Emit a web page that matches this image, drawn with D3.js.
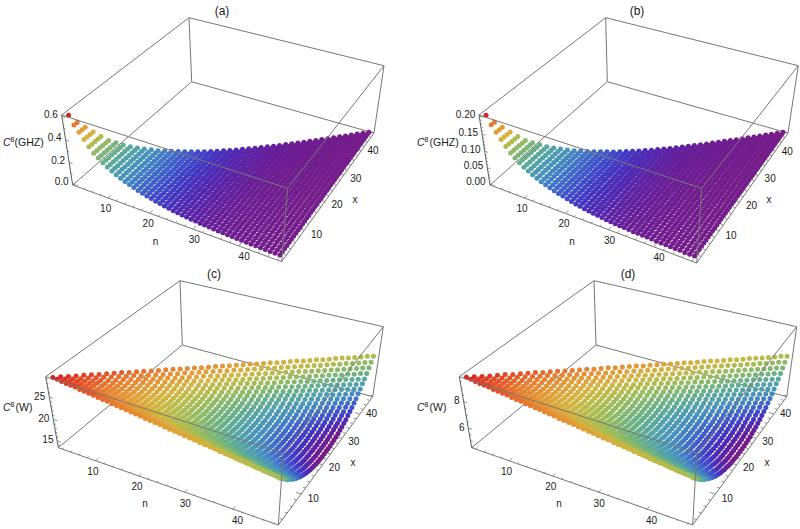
<!DOCTYPE html>
<html><head><meta charset="utf-8">
<style>html,body{margin:0;padding:0;background:#fff}svg{display:block}text{font-family:"Liberation Sans",Arial,sans-serif;fill:#1a1a1a}</style>
<script src="https://cdn.jsdelivr.net/npm/d3@7"></script></head><body><svg id="c" width="800" height="529"></svg>
<script>
// n runs 2..48, x runs 1..n-1
const nValues = d3.range(2, 49);
// panels (a), (b): value read per n (columns have one colour)
const ghzA = [.600,.530,.480,.430,.380,.335,.305,.275,.250,.228,.208,.190,.172,.158,.145,.132,.121,.110,.100,.090,.082,.074,.067,.060,.055,.050,.045,.040,.037,.033,.030,.027,.025,.022,.020,.018,.017,.015,.013,.012,.011,.010,.009,.008,.007,.006,.006];
const ghzB = [.200,.177,.160,.143,.127,.112,.102,.092,.083,.076,.069,.063,.057,.053,.048,.044,.040,.037,.033,.030,.027,.025,.022,.020,.018,.017,.015,.013,.012,.011,.010,.009,.008,.007,.007,.006,.006,.005,.004,.004,.004,.003,.003,.003,.002,.002,.002];
// panels (c), (d): one row per n, values for x=1..n/2 (the surface reads symmetric in x and n-x)
const wC = [[29.0],[28.9],[28.7,28.7],[28.6,28.5],[28.5,28.3,28.3],[28.4,28.2,28.1],[28.2,28.0,27.9,27.9],[28.1,27.9,27.7,27.7],[28.0,27.7,27.5,27.4,27.4],[27.9,27.6,27.3,27.2,27.1],
[27.7,27.4,27.2,27.0,26.9,26.9],[27.6,27.3,27.0,26.8,26.7,26.6],[27.5,27.1,26.8,26.6,26.4,26.3,26.3],[27.3,26.9,26.6,26.4,26.2,26.1,26.0],[27.2,26.8,26.4,26.2,26.0,25.8,25.7,25.7],[27.1,26.6,26.3,26.0,25.7,25.6,25.5,25.4],
[27.0,26.5,26.1,25.8,25.5,25.3,25.2,25.1,25.1],[26.8,26.3,25.9,25.6,25.3,25.1,24.9,24.8,24.8],[26.7,26.2,25.7,25.4,25.1,24.8,24.7,24.5,24.5,24.5],[26.6,26.0,25.6,25.2,24.9,24.6,24.4,24.3,24.2,24.1],
[26.4,25.9,25.4,25.0,24.7,24.4,24.1,24.0,23.9,23.8,23.8],[26.3,25.8,25.3,24.8,24.4,24.1,23.9,23.7,23.6,23.5,23.4],[26.2,25.6,25.1,24.6,24.2,23.9,23.6,23.4,23.3,23.2,23.1,23.1],[26.1,25.5,24.9,24.5,24.0,23.7,23.4,23.2,23.0,22.9,22.8,22.8],
[25.9,25.3,24.8,24.3,23.8,23.5,23.2,22.9,22.7,22.6,22.5,22.4,22.4],[25.8,25.2,24.6,24.1,23.7,23.3,22.9,22.7,22.4,22.3,22.2,22.1,22.0],[25.7,25.0,24.4,23.9,23.5,23.1,22.7,22.4,22.2,22.0,21.8,21.7,21.7,21.7],[25.6,24.9,24.3,23.7,23.3,22.8,22.5,22.2,21.9,21.7,21.5,21.4,21.3,21.3],
[25.4,24.8,24.1,23.6,23.1,22.6,22.2,21.9,21.6,21.4,21.2,21.1,21.0,20.9,20.9],[25.3,24.6,24.0,23.4,22.9,22.4,22.0,21.7,21.4,21.1,20.9,20.8,20.7,20.6,20.6],[25.2,24.5,23.8,23.2,22.7,22.2,21.8,21.4,21.1,20.8,20.6,20.4,20.3,20.2,20.2,20.2],[25.0,24.3,23.7,23.1,22.5,22.0,21.6,21.2,20.8,20.6,20.3,20.1,20.0,19.9,19.8,19.8],
[24.9,24.2,23.5,22.9,22.3,21.8,21.4,21.0,20.6,20.3,20.0,19.8,19.7,19.5,19.5,19.4,19.4],[24.8,24.0,23.4,22.7,22.2,21.6,21.1,20.7,20.3,20.0,19.7,19.5,19.3,19.2,19.1,19.0,19.0],[24.7,23.9,23.2,22.6,22.0,21.4,20.9,20.5,20.1,19.8,19.5,19.2,19.0,18.9,18.7,18.7,18.6,18.6],[24.5,23.8,23.1,22.4,21.8,21.2,20.7,20.3,19.9,19.5,19.2,18.9,18.7,18.5,18.4,18.3,18.3,18.2],
[24.4,23.6,22.9,22.2,21.6,21.0,20.5,20.0,19.6,19.2,18.9,18.6,18.4,18.2,18.0,17.9,17.9,17.8,17.8],[24.3,23.5,22.7,22.0,21.4,20.8,20.3,19.8,19.4,19.0,18.6,18.3,18.1,17.9,17.7,17.6,17.5,17.4,17.4],[24.1,23.3,22.6,21.9,21.2,20.6,20.1,19.6,19.1,18.7,18.4,18.1,17.8,17.6,17.4,17.2,17.1,17.0,17.0,17.0],[24.0,23.2,22.4,21.7,21.1,20.5,19.9,19.4,18.9,18.5,18.1,17.8,17.5,17.2,17.0,16.9,16.8,16.7,16.6,16.6],
[23.9,23.1,22.3,21.6,20.9,20.3,19.7,19.2,18.7,18.2,17.9,17.5,17.2,16.9,16.7,16.5,16.4,16.3,16.2,16.2,16.2],[23.8,22.9,22.1,21.4,20.7,20.1,19.5,19.0,18.4,18.0,17.6,17.2,16.9,16.6,16.4,16.2,16.0,15.9,15.8,15.8,15.8],[23.6,22.8,22.0,21.2,20.6,19.9,19.3,18.7,18.2,17.8,17.3,17.0,16.6,16.3,16.1,15.9,15.7,15.6,15.5,15.4,15.4,15.3],[23.5,22.6,21.8,21.1,20.4,19.7,19.1,18.5,18.0,17.5,17.1,16.7,16.4,16.1,15.8,15.6,15.4,15.2,15.1,15.0,15.0,14.9],
[23.4,22.5,21.7,20.9,20.2,19.5,18.9,18.3,17.8,17.3,16.8,16.4,16.1,15.8,15.5,15.2,15.0,14.8,14.7,14.6,14.6,14.5,14.5],[23.3,22.4,21.6,20.8,20.0,19.3,18.7,18.1,17.5,17.0,16.6,16.1,15.8,15.4,15.1,14.9,14.7,14.5,14.3,14.2,14.1,14.1,14.1],[23.1,22.2,21.4,20.6,19.8,19.2,18.5,17.9,17.3,16.8,16.3,15.9,15.5,15.1,14.8,14.5,14.3,14.1,13.9,13.8,13.7,13.6,13.6,13.6]];
const wD = [[9.67],[9.63],[9.57,9.57],[9.53,9.50],[9.50,9.43,9.43],[9.47,9.40,9.37],[9.40,9.33,9.30,9.30],[9.37,9.30,9.23,9.23],[9.33,9.23,9.17,9.13,9.13],[9.30,9.20,9.10,9.07,9.03],
[9.23,9.13,9.07,9.00,8.97,8.97],[9.20,9.10,9.00,8.93,8.90,8.87],[9.17,9.03,8.93,8.87,8.80,8.77,8.77],[9.10,8.97,8.87,8.80,8.73,8.70,8.67],[9.07,8.93,8.80,8.73,8.67,8.60,8.57,8.57],[9.03,8.87,8.77,8.67,8.57,8.53,8.50,8.47],
[9.00,8.83,8.70,8.60,8.50,8.43,8.40,8.37,8.37],[8.93,8.77,8.63,8.53,8.43,8.37,8.30,8.27,8.27],[8.90,8.73,8.57,8.47,8.37,8.27,8.23,8.17,8.17,8.17],[8.87,8.67,8.53,8.40,8.30,8.20,8.13,8.10,8.07,8.03],
[8.80,8.63,8.47,8.33,8.23,8.13,8.03,8.00,7.97,7.93,7.93],[8.77,8.60,8.43,8.27,8.13,8.03,7.97,7.90,7.87,7.83,7.80],[8.73,8.53,8.37,8.20,8.07,7.97,7.87,7.80,7.77,7.73,7.70,7.70],[8.70,8.50,8.30,8.17,8.00,7.90,7.80,7.73,7.67,7.63,7.60,7.60],
[8.63,8.43,8.27,8.10,7.93,7.83,7.73,7.63,7.57,7.53,7.50,7.47,7.47],[8.60,8.40,8.20,8.03,7.90,7.77,7.63,7.57,7.47,7.43,7.40,7.37,7.33],[8.57,8.33,8.13,7.97,7.83,7.70,7.57,7.47,7.40,7.33,7.27,7.23,7.23,7.23],[8.53,8.30,8.10,7.90,7.77,7.60,7.50,7.40,7.30,7.23,7.17,7.13,7.10,7.10],
[8.47,8.27,8.03,7.87,7.70,7.53,7.40,7.30,7.20,7.13,7.07,7.03,7.00,6.97,6.97],[8.43,8.20,8.00,7.80,7.63,7.47,7.33,7.23,7.13,7.03,6.97,6.93,6.90,6.87,6.87],[8.40,8.17,7.93,7.73,7.57,7.40,7.27,7.13,7.03,6.93,6.87,6.80,6.77,6.73,6.73,6.73],[8.33,8.10,7.90,7.70,7.50,7.33,7.20,7.07,6.93,6.87,6.77,6.70,6.67,6.63,6.60,6.60],
[8.30,8.07,7.83,7.63,7.43,7.27,7.13,7.00,6.87,6.77,6.67,6.60,6.57,6.50,6.50,6.47,6.47],[8.27,8.00,7.80,7.57,7.40,7.20,7.03,6.90,6.77,6.67,6.57,6.50,6.43,6.40,6.37,6.33,6.33],[8.23,7.97,7.73,7.53,7.33,7.13,6.97,6.83,6.70,6.60,6.50,6.40,6.33,6.30,6.23,6.23,6.20,6.20],[8.17,7.93,7.70,7.47,7.27,7.07,6.90,6.77,6.63,6.50,6.40,6.30,6.23,6.17,6.13,6.10,6.10,6.07],
[8.13,7.87,7.63,7.40,7.20,7.00,6.83,6.67,6.53,6.40,6.30,6.20,6.13,6.07,6.00,5.97,5.97,5.93,5.93],[8.10,7.83,7.57,7.33,7.13,6.93,6.77,6.60,6.47,6.33,6.20,6.10,6.03,5.97,5.90,5.87,5.83,5.80,5.80],[8.03,7.77,7.53,7.30,7.07,6.87,6.70,6.53,6.37,6.23,6.13,6.03,5.93,5.87,5.80,5.73,5.70,5.67,5.67,5.67],[8.00,7.73,7.47,7.23,7.03,6.83,6.63,6.47,6.30,6.17,6.03,5.93,5.83,5.73,5.67,5.63,5.60,5.57,5.53,5.53],
[7.97,7.70,7.43,7.20,6.97,6.77,6.57,6.40,6.23,6.07,5.97,5.83,5.73,5.63,5.57,5.50,5.47,5.43,5.40,5.40,5.40],[7.93,7.63,7.37,7.13,6.90,6.70,6.50,6.33,6.13,6.00,5.87,5.73,5.63,5.53,5.47,5.40,5.33,5.30,5.27,5.27,5.27],[7.87,7.60,7.33,7.07,6.87,6.63,6.43,6.23,6.07,5.93,5.77,5.67,5.53,5.43,5.37,5.30,5.23,5.20,5.17,5.13,5.13,5.10],[7.83,7.53,7.27,7.03,6.80,6.57,6.37,6.17,6.00,5.83,5.70,5.57,5.47,5.37,5.27,5.20,5.13,5.07,5.03,5.00,5.00,4.97],
[7.80,7.50,7.23,6.97,6.73,6.50,6.30,6.10,5.93,5.77,5.60,5.47,5.37,5.27,5.17,5.07,5.00,4.93,4.90,4.87,4.87,4.83,4.83],[7.77,7.47,7.20,6.93,6.67,6.43,6.23,6.03,5.83,5.67,5.53,5.37,5.27,5.13,5.03,4.97,4.90,4.83,4.77,4.73,4.70,4.70,4.70],[7.70,7.40,7.13,6.87,6.60,6.40,6.17,5.97,5.77,5.60,5.43,5.30,5.17,5.03,4.93,4.83,4.77,4.70,4.63,4.60,4.57,4.53,4.53,4.53]];

const nTicks = [10,20,30,40], xTicks = [10,20,30,40];
const zTicksA = [0,.2,.4,.6], zTicksB = [0,.05,.1,.15,.2], zTicksC = [15,20,25], zTicksD = [6,8];
const rainbowStops = [0,.04,.08,.12,.17,.23,.3,.38,.46,.55,.64,.72,.8,.88,.95,1];
const rainbow = ["#781C86","#6A1E96","#5526AE","#4433C0","#3F4DCB","#3F6FC8","#4690BE","#52A3A8","#68B088","#8CBA68","#B3BC4C","#D3B440","#E39C36","#E77E2F","#E14D27","#DB2220"];

const panels = [
 {title:"(a)", titleXY:[222,15], z:[-.012,.612], zr:[0,.6], values:(n,x)=>ghzA[n-2], zTicks:zTicksA, zMinor:.1, zFmt:d3.format(".1f"), zLab:"GHZ", zLabXY:[3,146], nLab:[155.5,245], xLab:[355,203], zDy:1.5,
  c:{LB:[72.7,185],FB:[281.7,261.7],RB:[374,133],BB:[191.7,81.7],LT:[61.7,115],FT:[287.7,188.3],RT:[384,65.7],BT:[189,17.7]}},
 {title:"(b)", titleXY:[637,15], z:[-.004,.204], zr:[0,.2], values:(n,x)=>ghzB[n-2], zTicks:zTicksB, zMinor:.01, zFmt:d3.format(".2f"), zLab:"GHZ", zLabXY:[417,146], nLab:[572,245], xLab:[769,203], zDy:1.5,
  c:{LB:[490,185],FB:[696.7,263],RB:[788,133],BB:[607.3,81.7],LT:[479,115],FT:[701.7,188.3],RT:[798.3,65.7],BT:[605.7,17.7]}},
 {title:"(c)", titleXY:[214,278], z:[13.3,29.3], zr:[13.6,29], values:(n,x)=>{const r=wC[n-2];return r[Math.min(Math.min(x,n-x)-1,r.length-1)];}, zTicks:zTicksC, zMinor:1, zFmt:d3.format("d"), zLab:"W", zLabXY:[3,411], nLab:[145,507], xLab:[353,466], zDy:2.5,
  c:{LB:[58.3,447.7],FB:[278.3,525],RB:[372.7,396.7],BB:[182.3,345],LT:[45.7,376.7],FT:[283.3,453.3],RT:[383.3,326.7],BT:[180,280.7]}},
 {title:"(d)", titleXY:[628,278], z:[4.43,9.77], zr:[4.53,9.67], values:(n,x)=>{const r=wD[n-2];return r[Math.min(Math.min(x,n-x)-1,r.length-1)];}, zTicks:zTicksD, zMinor:.5, zFmt:d3.format("d"), zLab:"W", zLabXY:[417,411], nLab:[559,507], xLab:[767,466], zDy:2.5,
  c:{LB:[471.7,447.7],FB:[692.7,525],RB:[786.7,396.7],BB:[596,345],LT:[459.3,376.7],FT:[696.7,453.3],RT:[796.7,326.7],BT:[594,280.7]}}
];
const cube = {LB:[0,0,0],FB:[1,0,0],RB:[1,1,0],BB:[0,1,0],LT:[0,0,1],FT:[1,0,1],RT:[1,1,1],BT:[0,1,1]};
const nLabelNudge = [-3.5,-2.5,0,4], xLabelNudge = [1,0,0,-3];

// least-squares projective camera through the eight box corners
function camera(c){
  const A=[],b=[];
  for(const k in cube){const [u,v,w]=cube[k],[px,py]=c[k];
    A.push([u,v,w,1,0,0,0,0,-px*u,-px*v,-px*w]);b.push(px);
    A.push([0,0,0,0,u,v,w,1,-py*u,-py*v,-py*w]);b.push(py);}
  const N=11,M=d3.range(N).map(i=>d3.range(N+1).map(j=>d3.sum(A,(r,k)=>r[i]*(j<N?r[j]:b[k]))));
  for(let i=0;i<N;i++){let p=i;for(let r=i+1;r<N;r++)if(Math.abs(M[r][i])>Math.abs(M[p][i]))p=r;
    [M[i],M[p]]=[M[p],M[i]];
    for(let r=0;r<N;r++)if(r!==i){const f=M[r][i]/M[i][i];for(let j=i;j<=N;j++)M[r][j]-=f*M[i][j];}}
  const h=d3.range(N).map(i=>M[i][N]/M[i][i]);
  return (u,v,w)=>{const d=h[8]*u+h[9]*v+h[10]*w+1;
    return [(h[0]*u+h[1]*v+h[2]*w+h[3])/d,(h[4]*u+h[5]*v+h[6]*w+h[7])/d];};
}

const svg=d3.select("#c");
const nScale=d3.scaleLinear().domain([1.08,48.92]).range([0,1]);
const xScale=d3.scaleLinear().domain([.08,47.92]).range([0,1]);
const backEdges=[["LT","BT"],["BT","RT"],["BT","BB"],["BB","LB"],["BB","RB"],["LT","LB"],["RT","RB"],["LB","FB"],["FB","RB"]];
const frontEdges=[["LT","FT"],["FT","RT"],["FT","FB"]];

panels.forEach(p=>{
  const g=svg.append("g"), P=camera(p.c);
  const zScale=d3.scaleLinear().domain(p.z).range([0,1]);
  const colorT=d3.scaleLinear().domain(p.zr).range([0,1]).clamp(true);
  const color=d3.scaleLinear().domain(rainbowStops).range(rainbow);
  const edge=(sel,list)=>sel.selectAll(null).data(list).join("line")
    .attr("x1",d=>p.c[d[0]][0]).attr("y1",d=>p.c[d[0]][1]).attr("x2",d=>p.c[d[1]][0]).attr("y2",d=>p.c[d[1]][1])
    .attr("stroke",d=>d[0]=="LT"&&d[1]=="LB"?"#5c5c5c":"#777").attr("stroke-width",1);
  edge(g.append("g"),backEdges);

  // ticks on the n, x and z axes
  const seg=(a,b)=>({a,b});
  const tickSegs=[];
  d3.range(2,49,2).forEach(t=>{const L=t%10==0?.022:.011;
    tickSegs.push(seg(P(nScale(t),0,0),P(nScale(t),L,0)));
    tickSegs.push(seg(P(1,xScale(t),0),P(1-L,xScale(t),0)));});
  const zd=zScale.domain();
  for(let t=Math.ceil(zd[0]/p.zMinor-1e-6);t*p.zMinor<=zd[1]+1e-9;t++){const val=t*p.zMinor;
    const major=p.zTicks.some(q=>Math.abs(q-val)<1e-6),L=major?.018:.009;
    tickSegs.push(seg(P(0,0,zScale(val)),P(L,0,zScale(val))));}
  g.append("g").selectAll("line").data(tickSegs).join("line")
    .attr("x1",d=>d.a[0]).attr("y1",d=>d.a[1]).attr("x2",d=>d.b[0]).attr("y2",d=>d.b[1])
    .attr("stroke","#777").attr("stroke-width",.8);

  // points, far ones first
  const pts=[];
  nValues.forEach(n=>d3.range(1,n).forEach(x=>pts.push({n,x,z:p.values(n,x)})));
  pts.sort((a,b)=>(b.x-a.x)||(a.n-b.n));
  g.append("g").selectAll("circle").data(pts).join("circle")
    .attr("cx",d=>P(nScale(d.n),xScale(d.x),zScale(d.z))[0])
    .attr("cy",d=>P(nScale(d.n),xScale(d.x),zScale(d.z))[1])
    .attr("r",2.5).attr("fill",d=>color(colorT(d.z)));
  edge(g.append("g"),frontEdges);

  // tick labels
  const txt=(s,xy,anchor,size)=>g.append("text").attr("x",xy[0]).attr("y",xy[1]).attr("text-anchor",anchor||"middle").attr("font-size",size||10).text(s);
  nTicks.forEach((t,i)=>{const q=P(nScale(t),0,0);txt(t,[q[0]+1+nLabelNudge[i],q[1]+14]);});
  xTicks.forEach((t,i)=>{const q=P(1,xScale(t),0);txt(t,[q[0]+12,q[1]+6.5+xLabelNudge[i]]);});
  p.zTicks.forEach(t=>{const q=P(0,0,zScale(t));txt(p.zFmt(t),[q[0]-4,q[1]+p.zDy],"end");});
  txt(p.title,p.titleXY,"middle",12);
  txt("n",p.nLab); txt("x",p.xLab);
  const lab=g.append("text").attr("x",p.zLabXY[0]).attr("y",p.zLabXY[1]).attr("font-size",10.5);
  lab.append("tspan").attr("font-style","italic").text("C");
  lab.append("tspan").attr("font-size",7).attr("dy",-4).text("8");
  lab.append("tspan").attr("dy",4).attr("dx",p.title=="(a)"?0:1).text(`(${p.zLab})`);
});
</script></body></html>
